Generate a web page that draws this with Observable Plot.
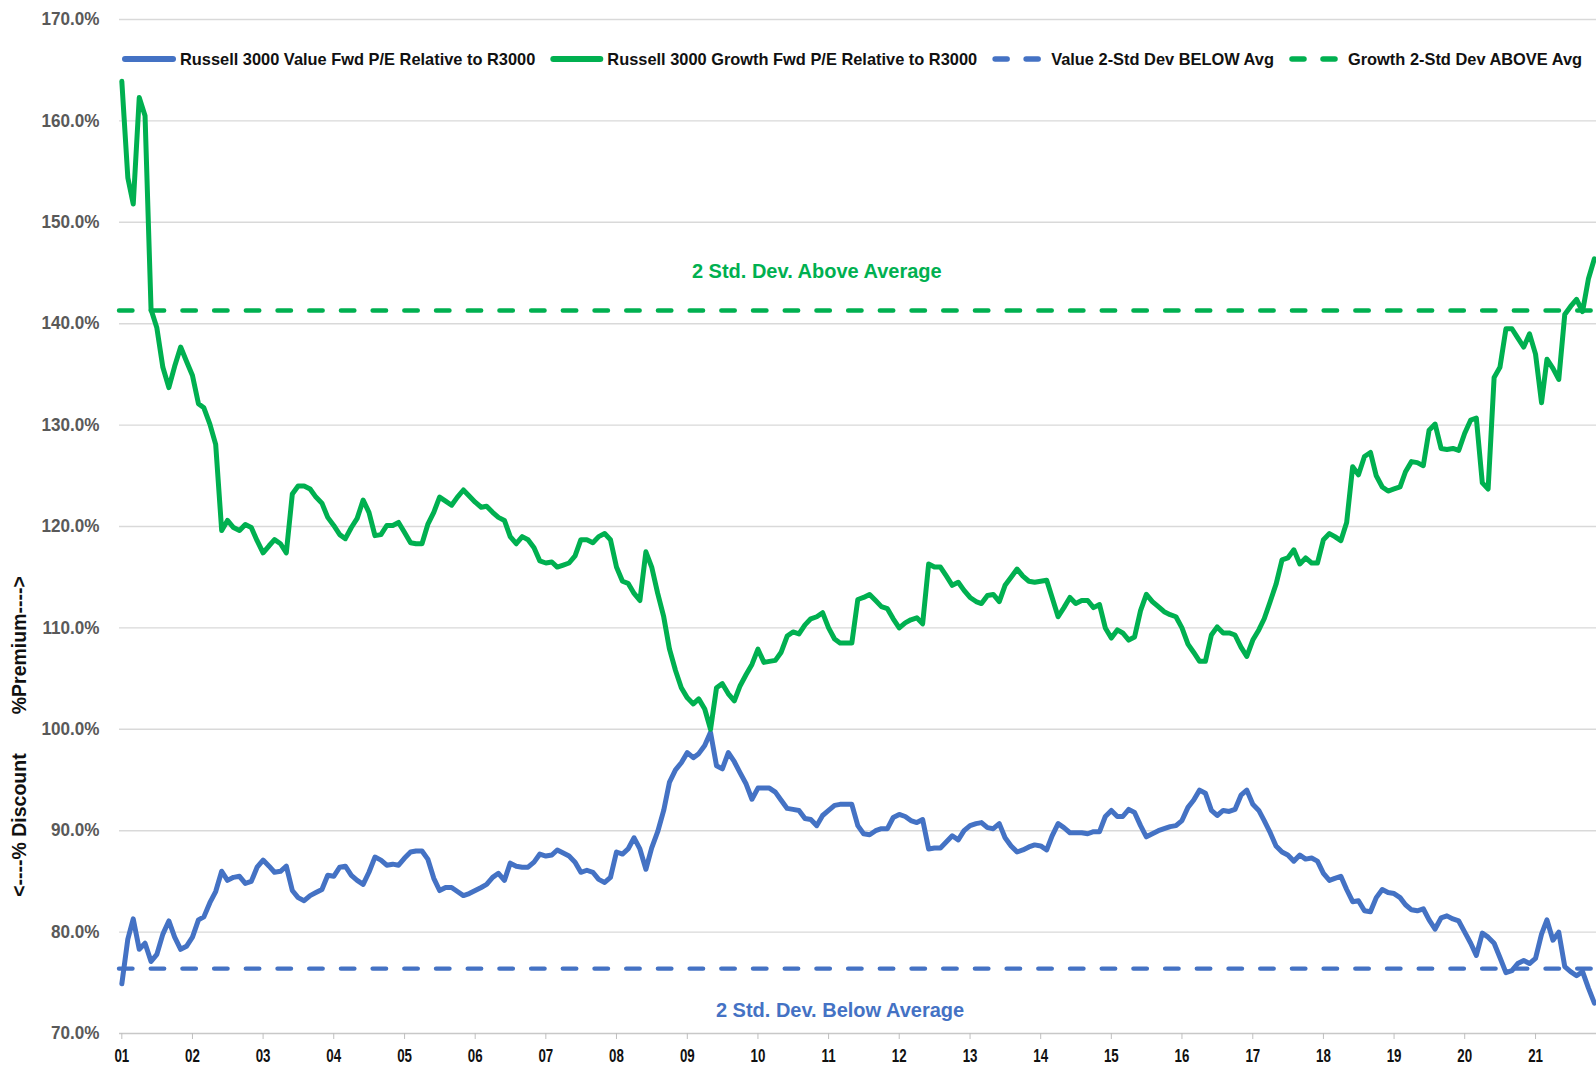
<!DOCTYPE html>
<html>
<head>
<meta charset="utf-8">
<script src="https://cdn.jsdelivr.net/npm/d3@7"></script>
<script src="https://cdn.jsdelivr.net/npm/@observablehq/plot@0.6"></script>
<style>
  body { margin: 0; background: #fff; }
  #wrap { position: relative; width: 1596px; height: 1067px; overflow: hidden; }
  #wrap svg { position: absolute; left: 0; top: 0; }
</style>
</head>
<body>
<div id="wrap"></div>
<script>
// ---------------- data (monthly, Jan 2001 – Nov 2021) ----------------
const startYear = 2001;
const valueRel = [
  74.9, 79.3, 81.3, 78.3, 78.9, 77.1, 77.8, 79.8, 81.1, 79.5, 78.3, 78.6,
  79.5, 81.2, 81.5, 82.9, 84.0, 86.0, 85.1, 85.4, 85.5, 84.8, 85.0, 86.4,
  87.1, 86.5, 85.9, 86.0, 86.5, 84.1, 83.4, 83.1, 83.6, 83.9, 84.2, 85.6,
  85.5, 86.4, 86.5, 85.6, 85.1, 84.7, 85.9, 87.4, 87.1, 86.6, 86.7, 86.6,
  87.3, 87.9, 88.0, 88.0, 87.2, 85.3, 84.1, 84.4, 84.4, 84.0, 83.6, 83.8,
  84.1, 84.4, 84.7, 85.4, 85.8, 85.1, 86.8, 86.5, 86.4, 86.4, 86.9, 87.7,
  87.5, 87.6, 88.1, 87.8, 87.5, 86.9, 85.9, 86.1, 85.9, 85.2, 84.9, 85.4,
  87.9, 87.7, 88.2, 89.3, 88.2, 86.2, 88.3, 89.9, 92.0, 94.8, 96.0, 96.7,
  97.7, 97.2, 97.6, 98.4, 99.7, 96.4, 96.1, 97.7, 96.8, 95.7, 94.6, 93.1,
  94.2, 94.2, 94.2, 93.8, 93.0, 92.2, 92.1, 92.0, 91.2, 91.1, 90.5, 91.5,
  92.0, 92.5, 92.6, 92.6, 92.6, 90.5, 89.7, 89.6, 90.0, 90.2, 90.2, 91.3,
  91.6, 91.4, 91.0, 90.8, 91.1, 88.2, 88.3, 88.3, 88.9, 89.5, 89.1, 90.0,
  90.5, 90.7, 90.8, 90.3, 90.2, 90.7, 89.3, 88.5, 87.9, 88.1, 88.4, 88.6,
  88.5, 88.1, 89.5, 90.7, 90.3, 89.8, 89.8, 89.8, 89.7, 89.9, 89.9, 91.4,
  92.0, 91.4, 91.4, 92.1, 91.8, 90.5, 89.4, 89.7, 90.0, 90.2, 90.4, 90.5,
  91.0, 92.3, 93.0, 94.0, 93.7, 92.0, 91.5, 92.0, 91.9, 92.1, 93.5, 94.0,
  92.6, 92.0, 91.0, 89.8, 88.5, 87.9, 87.6, 87.0, 87.6, 87.2, 87.3, 87.0,
  85.8, 85.1, 85.3, 85.5, 84.2, 83.0, 83.1, 82.1, 82.0, 83.4, 84.2, 83.9,
  83.8, 83.4, 82.7, 82.2, 82.1, 82.3, 81.2, 80.3, 81.4, 81.6, 81.3, 81.1,
  80.0, 78.9, 77.7, 79.9, 79.5, 78.9, 77.5, 76.0, 76.2, 76.9, 77.2, 76.9,
  77.4, 79.8, 81.2, 79.2, 80.0, 76.6, 76.1, 75.7, 76.1, 74.5, 73.0
];
const growthRel = [
  163.9, 154.4, 151.8, 162.3, 160.5, 141.4, 139.6, 135.7, 133.7, 135.8, 137.7, 136.3,
  134.9, 132.1, 131.7, 130.1, 128.1, 119.6, 120.6, 119.9, 119.6, 120.2, 119.9, 118.6,
  117.4, 118.1, 118.7, 118.3, 117.4, 123.2, 124.0, 124.0, 123.7, 122.9, 122.3, 120.9,
  120.1, 119.2, 118.8, 119.9, 120.8, 122.6, 121.4, 119.1, 119.2, 120.1, 120.1, 120.4,
  119.4, 118.4, 118.3, 118.3, 120.2, 121.4, 122.9, 122.5, 122.1, 122.9, 123.6, 123.0,
  122.4, 121.9, 122.0, 121.4, 120.9, 120.6, 119.0, 118.3, 119.0, 118.7, 117.9, 116.6,
  116.4, 116.5, 116.0, 116.2, 116.4, 117.1, 118.7, 118.7, 118.4, 119.0, 119.3, 118.7,
  116.0, 114.6, 114.4, 113.4, 112.7, 117.5, 116.0, 113.4, 111.1, 107.9, 105.8, 104.1,
  103.1, 102.5, 103.0, 102.0, 100.0, 104.1, 104.5, 103.5, 102.8, 104.3, 105.4, 106.4,
  107.9, 106.6, 106.7, 106.8, 107.6, 109.2, 109.6, 109.4, 110.3, 110.9, 111.1, 111.5,
  110.0, 108.9, 108.5, 108.5, 108.5, 112.8, 113.0, 113.3, 112.7, 112.1, 111.9, 110.9,
  110.0, 110.5, 110.8, 111.0, 110.4, 116.3, 116.0, 116.0, 115.1, 114.2, 114.5, 113.7,
  113.0, 112.6, 112.4, 113.2, 113.3, 112.6, 114.2, 115.0, 115.8, 115.1, 114.6, 114.5,
  114.6, 114.7, 113.0, 111.1, 112.0, 113.0, 112.4, 112.7, 112.7, 112.0, 112.3, 110.0,
  109.0, 109.8, 109.5, 108.8, 109.1, 111.7, 113.3, 112.6, 112.1, 111.6, 111.3, 111.1,
  110.0, 108.4, 107.6, 106.7, 106.7, 109.3, 110.1, 109.5, 109.5, 109.3, 108.1, 107.2,
  108.8, 109.8, 110.9, 112.6, 114.3, 116.7, 116.9, 117.7, 116.3, 116.9, 116.4, 116.4,
  118.7, 119.3, 119.0, 118.6, 120.4, 125.9, 125.1, 126.9, 127.3, 125.0, 123.9, 123.5,
  123.7, 123.9, 125.4, 126.4, 126.3, 126.0, 129.5, 130.1, 127.7, 127.6, 127.7, 127.5,
  129.2, 130.5, 130.7, 124.3, 123.7, 134.7, 135.7, 139.5, 139.5, 138.6, 137.7, 139.0,
  137.0, 132.2, 136.5, 135.6, 134.5, 140.9, 141.7, 142.4, 141.2, 144.4, 146.4
];
const valueBelowAvg = 76.4;    // Value 2-Std Dev BELOW Avg
const growthAboveAvg = 141.3;  // Growth 2-Std Dev ABOVE Avg
const yTicks = [70, 80, 90, 100, 110, 120, 130, 140, 150, 160, 170];
const xTickYears = d3.range(2001, 2022);
const xTickLabels = ["01","02","03","04","05","06","07","08","09","10","11","12","13","14","15","16","17","18","19","20","21"];
const seriesNames = [
  "Russell 3000 Value Fwd P/E Relative to R3000",
  "Russell 3000 Growth Fwd P/E Relative to R3000",
  "Value 2-Std Dev BELOW Avg",
  "Growth 2-Std Dev ABOVE Avg"
];
const annotationTexts = ["2 Std. Dev. Above Average", "2 Std. Dev. Below Average"];
const annotationDates = [new Date(2010, 10, 1), new Date(2011, 2, 1)];
const annotationValues = [145.1, 72.3];
const parityLevel = 100;
const axisTitles = ["%Premium---->", "<----% Discount"];

// ---------------- styling ----------------
const BLUE = "#4472C4";
const GREEN = "#00B050";
const FONT = '"Liberation Sans", Arial, sans-serif';

const rows = valueRel.map((v, i) => ({
  date: new Date(startYear, i, 1),
  value: v,
  growth: growthRel[i]
}));
const xTicks = xTickYears.map(y => new Date(y, 0, 1));
const labelOf = new Map(xTicks.map((d, i) => [+d, xTickLabels[i]]));
const annotations = annotationTexts.map((t, i) => ({text: t, date: annotationDates[i], y: annotationValues[i], color: i === 0 ? GREEN : BLUE}));

const chart = Plot.plot({
  width: 1596,
  height: 1067,
  marginLeft: 119,
  marginRight: 0,
  marginTop: 19,
  marginBottom: 34,
  style: {fontFamily: FONT, background: "#fff", overflow: "visible"},
  x: {type: "time", domain: [new Date(2000, 11, 20), new Date(2021, 10, 12)]},
  y: {domain: [70, 170]},
  marks: [
    Plot.gridY(yTicks.filter(d => d > 70), {stroke: "#d9d9d9", strokeOpacity: 1, strokeWidth: 1.4}),
    Plot.ruleY([70], {stroke: "#c8c8c8", strokeWidth: 1.6}),
    Plot.axisY(yTicks, {
      tickSize: 0, tickPadding: 20,
      tickFormat: d => d.toFixed(1) + "%",
      fill: "#595959", fontSize: 18, fontWeight: "bold", label: null
    }),
    Plot.axisX(xTicks, {
      tickSize: 6, tickPadding: 9,
      stroke: "#bfbfbf",
      tickFormat: d => labelOf.get(+d),
      fill: "#111", fontSize: 18.5, fontWeight: "bold", label: null
    }),
    Plot.lineY(rows, {x: "date", y: "value", stroke: BLUE, strokeWidth: 5, strokeLinejoin: "round", strokeLinecap: "round"}),
    Plot.lineY(rows, {x: "date", y: "growth", stroke: GREEN, strokeWidth: 5, strokeLinejoin: "round", strokeLinecap: "round"}),
    Plot.ruleY([valueBelowAvg], {stroke: BLUE, strokeWidth: 4.4, strokeDasharray: "13.5,18.2", strokeLinecap: "round"}),
    Plot.ruleY([growthAboveAvg], {stroke: GREEN, strokeWidth: 4.4, strokeDasharray: "13.5,18.2", strokeLinecap: "round"}),
    Plot.text(annotations, {
      x: "date", y: "y", text: "text",
      fill: d => d.color,
      fontSize: 20, fontWeight: "bold"
    }),
    Plot.text([axisTitles[0]], {
      y: [parityLevel], frameAnchor: "left", dx: -100, dy: -15,
      rotate: -90, textAnchor: "start", fontSize: 19.5, fontWeight: "bold", fill: "#111"
    }),
    Plot.text([axisTitles[1]], {
      y: [parityLevel], frameAnchor: "left", dx: -100, dy: 24,
      rotate: -90, textAnchor: "end", fontSize: 19.5, fontWeight: "bold", fill: "#111"
    })
  ]
});

const wrap = document.getElementById("wrap");
wrap.appendChild(chart);

// horizontally condense tick text (the original uses a narrow typeface)
function condense(nodes, k) {
  nodes.forEach(el => {
    const L = el.getComputedTextLength();
    if (L > 0) {
      el.setAttribute("textLength", (L * k).toFixed(2));
      el.setAttribute("lengthAdjust", "spacingAndGlyphs");
    }
  });
}
condense(chart.querySelectorAll('g[aria-label="x-axis tick label"] text'), 0.72);
condense(chart.querySelectorAll('g[aria-label="y-axis tick label"] text'), 0.95);

// ---------------- legend (overlaid at top of plot) ----------------
const legendSpec = [
  {name: seriesNames[0], color: BLUE, dashed: false, w: 54, gap: 4},
  {name: seriesNames[1], color: GREEN, dashed: false, w: 53, gap: 4},
  {name: seriesNames[2], color: BLUE, dashed: true, w: 49, gap: 10},
  {name: seriesNames[3], color: GREEN, dashed: true, w: 49, gap: 10}
];
const legendSvg = d3.select(wrap).append("svg")
  .attr("width", 1596).attr("height", 90)
  .style("font-family", FONT);
let cx = 122;
const cy = 59;
legendSpec.forEach(s => {
  const g = legendSvg.append("g");
  if (!s.dashed) {
    g.append("line").attr("x1", cx + 3).attr("x2", cx + s.w - 3).attr("y1", cy).attr("y2", cy)
      .attr("stroke", s.color).attr("stroke-width", 6).attr("stroke-linecap", "round");
  } else {
    const dl = 18;
    [cx, cx + s.w - dl].forEach(x0 => {
      g.append("line").attr("x1", x0 + 3).attr("x2", x0 + dl - 3).attr("y1", cy).attr("y2", cy)
        .attr("stroke", s.color).attr("stroke-width", 5.5).attr("stroke-linecap", "round");
    });
  }
  const t = g.append("text")
    .attr("x", cx + s.w + s.gap).attr("y", cy).attr("dy", "0.36em")
    .attr("font-size", 16.4).attr("font-weight", "bold").attr("fill", "#111")
    .text(s.name);
  const L = t.node().getComputedTextLength();
  cx = cx + s.w + s.gap + L + 15;
});
</script>
</body>
</html>
